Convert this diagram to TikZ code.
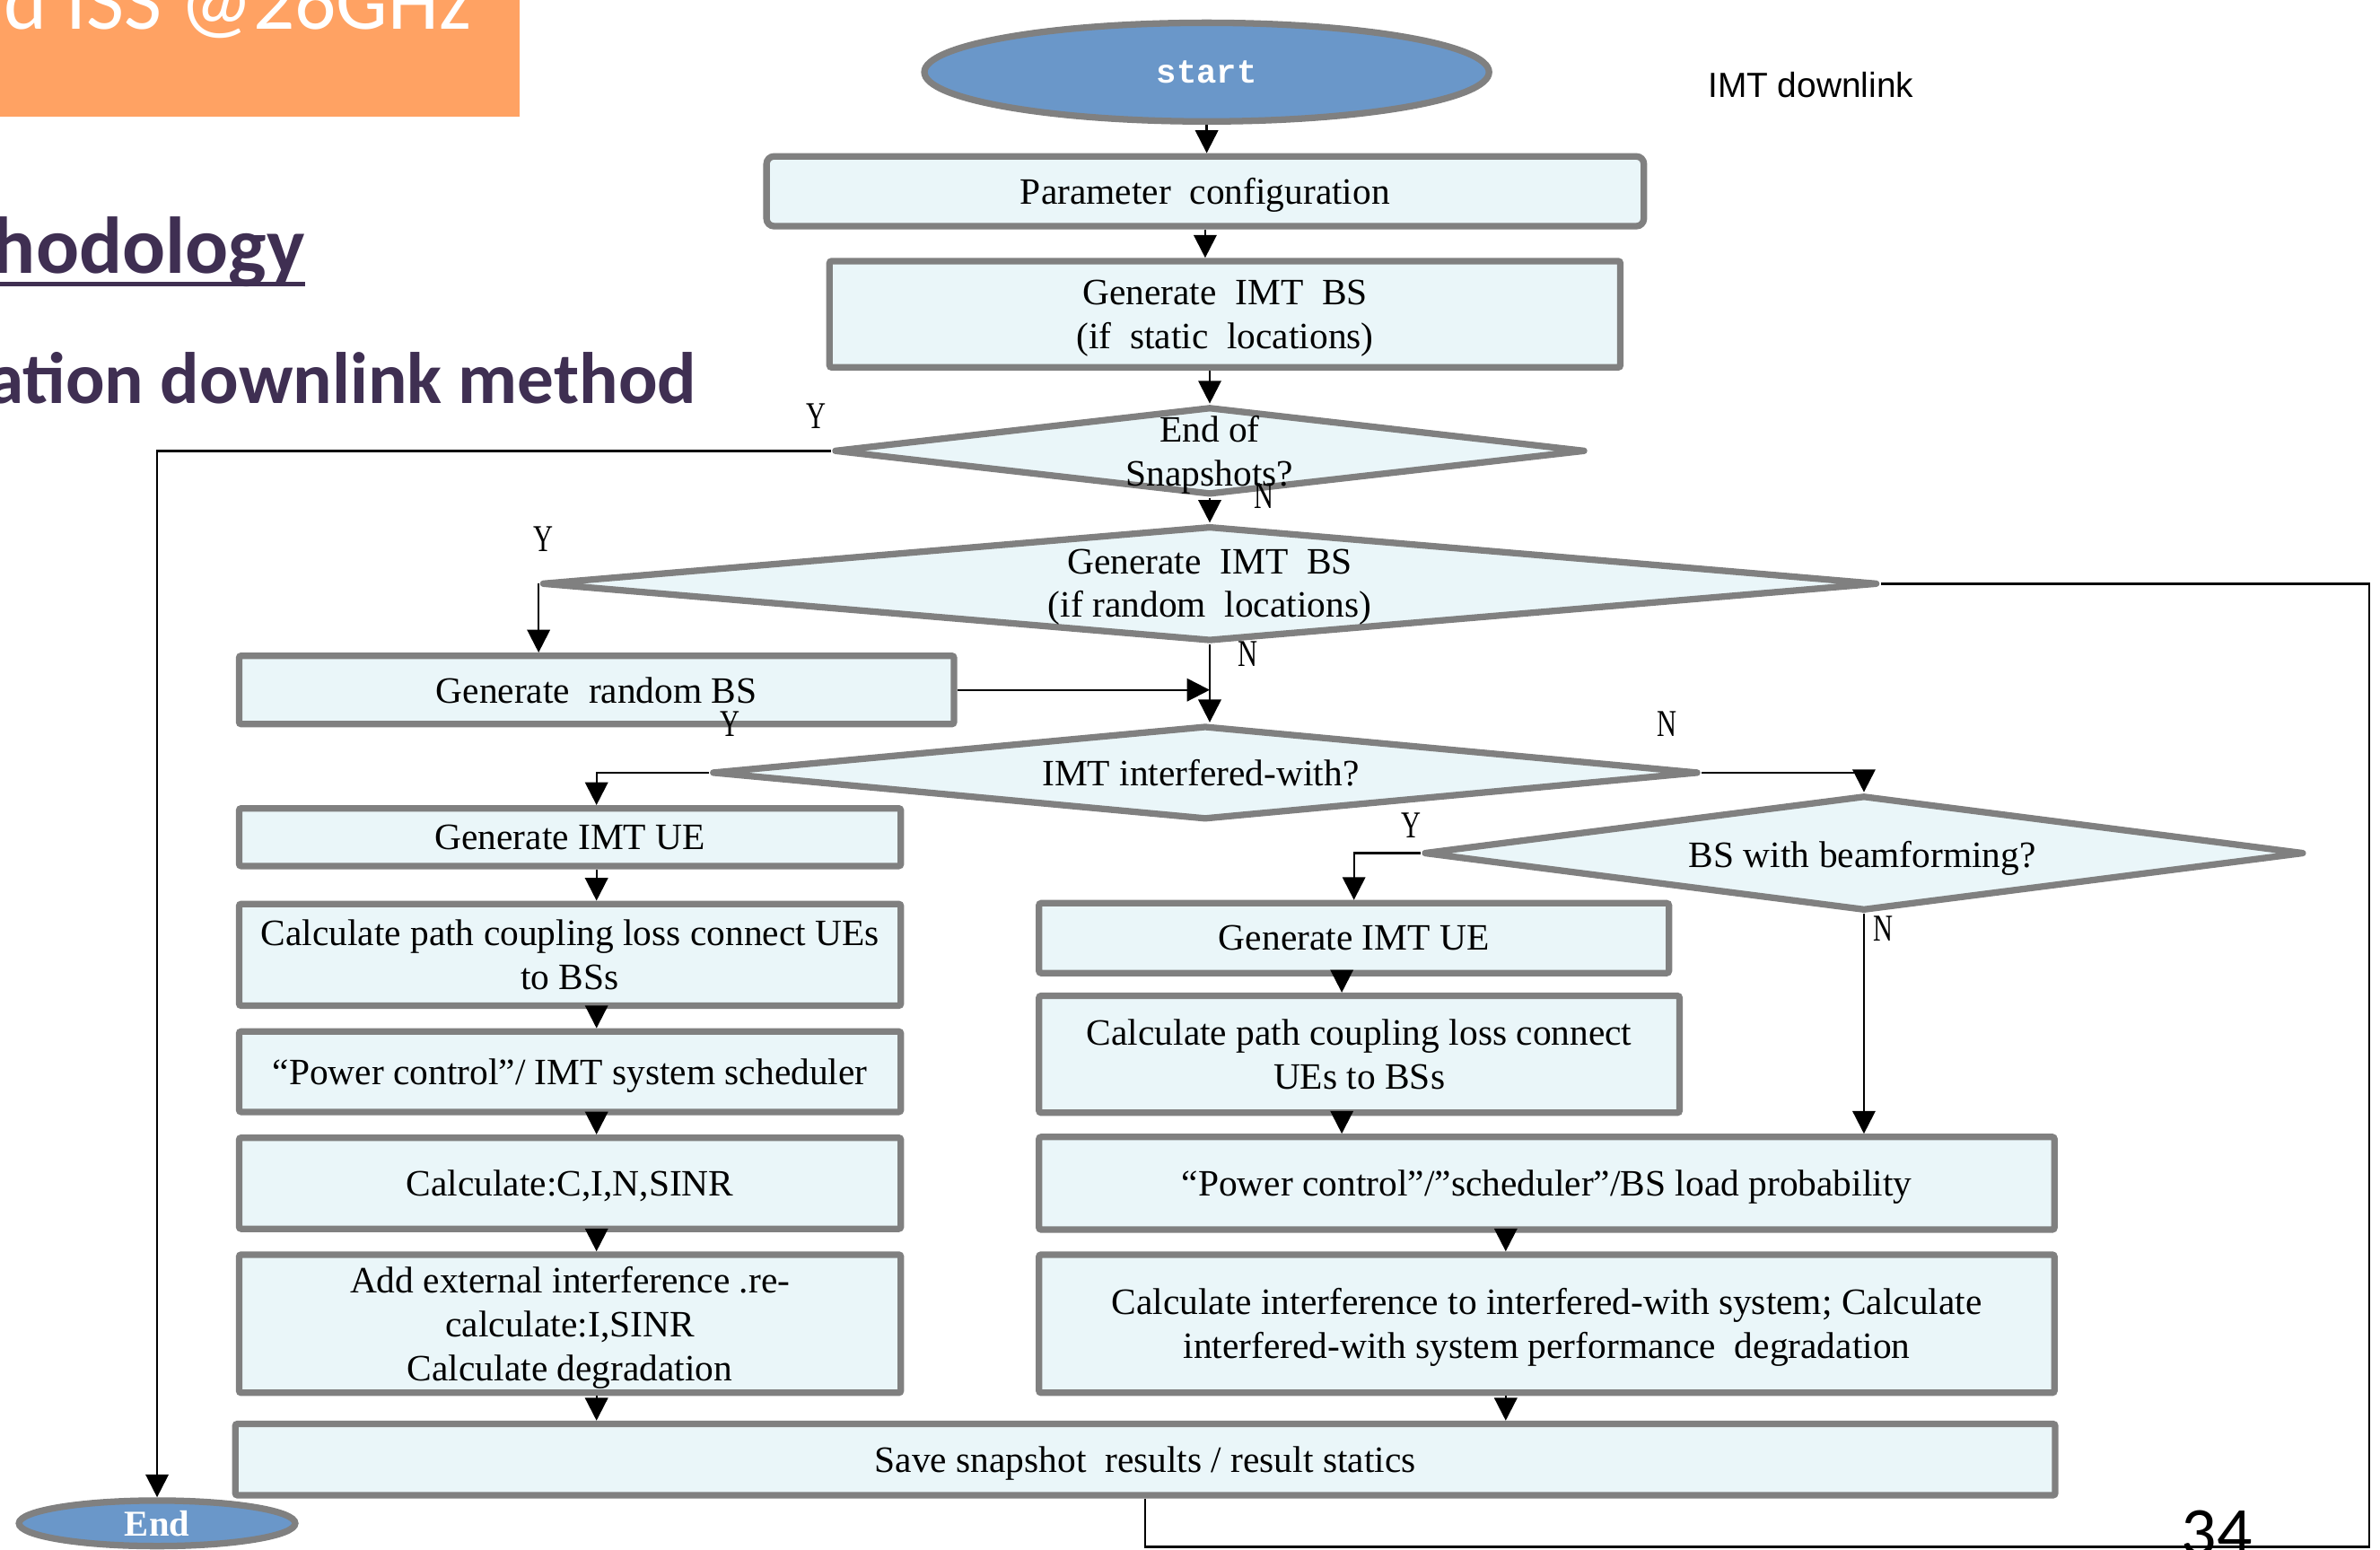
\documentclass[tikz,border=0pt]{standalone}
\usepackage{fontspec}
\setmainfont{Liberation Serif}
\newfontfamily\slidefont{Carlito}
\newfontfamily\labelsans{Liberation Sans}
\newfontfamily\termfont{Liberation Mono}
\newfontfamily\ynfont[FakeStretch=0.72]{Liberation Serif}
\usetikzlibrary{shapes.geometric,arrows.meta}
\definecolor{boxfill}{RGB}{234,246,249}
\definecolor{boxline}{RGB}{128,128,128}
\definecolor{termfill}{RGB}{106,151,201}
\definecolor{bannerorange}{RGB}{255,162,99}
\definecolor{headpurple}{RGB}{63,47,82}

\begin{document}
\begin{tikzpicture}[x=1pt, y=-1pt,
  box/.style={draw=boxline, fill=boxfill, line width=4.3pt, inner sep=0pt,
              rounded corners=1.5pt, align=center, text depth=0pt,
              font=\fontsize{24.5}{29}\selectfont},
  txt/.style={align=center, inner sep=0pt, text depth=0pt,
              font=\fontsize{24.5}{28.5}\selectfont},
  dec/.style={diamond, draw=boxline, fill=boxfill, line width=4.3pt,
              inner sep=0pt, line join=round},
  term/.style={ellipse, draw=boxline, fill=termfill, line width=4.3pt,
               inner sep=0pt, text=white},
  yn/.style={inner sep=0pt, font=\ynfont\fontsize{25}{25}\selectfont},
  arr/.style={line width=1.4pt, -{Triangle[width=15pt,length=15pt]}},
  link/.style={line width=1.4pt},
]
\useasboundingbox (0,0) rectangle (1568,1021);
\clip (0,0) rectangle (1568,1021);

% slide header remnants
\node[fill=bannerorange, anchor=north west, inner sep=0pt,
      minimum width=342pt, minimum height=76.5pt] (banner) at (0,0) {};
\node[anchor=base east, inner sep=0pt, text=white,
      font=\slidefont\fontsize{54}{60}\selectfont] (bannertext) at (311,19) {d ISS @26GHz};
\node[anchor=base east, inner sep=0pt, text=headpurple,
      font=\slidefont\bfseries\fontsize{53}{60}\selectfont] (meth) at (201,180) {hodology};
\draw[headpurple, line width=3pt] (meth.base east) ++(0,7) -- ++(-210,0);
\node[anchor=base east, inner sep=0pt, text=headpurple,
      font=\slidefont\bfseries\fontsize{48}{55}\selectfont] (subtitle) at (459,266) {ation downlink method};
\node[inner sep=0pt, font=\labelsans\fontsize{23}{25}\selectfont] (caption) at (1193,56) {IMT downlink};
\node[anchor=base west, inner sep=0pt, font=\slidefont\fontsize{46}{50}\selectfont] (pagenum) at (1437,1025) {34};

% terminals
\node[term, minimum width=372pt, minimum height=65pt,
      font=\termfont\bfseries\fontsize{22}{22}\selectfont] (start) at (795,47.5) {start};
\node[term, minimum width=182pt, minimum height=30pt,
      font=\bfseries\fontsize{24}{24}\selectfont] (stop) at (103.5,1003.5) {End};

% process boxes
\node[box, minimum width=578pt, minimum height=46pt, rounded corners=5pt] (param) at (794,126) {Parameter~ configuration};
\node[box, minimum width=521pt, minimum height=70pt] (genbs) at (807,207) {Generate~ IMT~ BS\\(if~ static~ locations)};
\node[box, minimum width=471pt, minimum height=45pt] (randbs) at (393,454.5) {Generate~ random BS};

\node[box, minimum width=436pt, minimum height=38pt] (ueL) at (375.5,551.5) {Generate IMT UE};
\node[box, minimum width=436pt, minimum height=67pt] (pathL) at (375.5,629) {Calculate path coupling loss connect UEs\\to BSs};
\node[box, minimum width=436pt, minimum height=53pt] (pcL) at (375.5,706) {“Power control”/ IMT system scheduler};
\node[box, minimum width=436pt, minimum height=60pt] (cinr) at (375.5,779.5) {Calculate:C,I,N,SINR};
\node[box, minimum width=436pt, minimum height=91pt] (extL) at (375.5,872) {Add external interference .re-\\calculate:I,SINR\\Calculate degradation};

\node[box, minimum width=415pt, minimum height=46pt] (ueR) at (892,618) {Generate IMT UE};
\node[box, minimum width=422pt, minimum height=77pt] (pathR) at (895.5,694.5) {Calculate path coupling loss connect\\UEs to BSs};
\node[box, minimum width=669pt, minimum height=61pt] (pcR) at (1019,779.5) {“Power control”/”scheduler”/BS load probability};
\node[box, minimum width=669pt, minimum height=91pt] (intR) at (1019,872) {Calculate interference to interfered-with system; Calculate\\interfered-with system performance~ degradation};

\node[box, minimum width=1199pt, minimum height=47pt] (save) at (754.5,961.5) {Save snapshot~ results / result statics};

% decisions
\node[dec, minimum width=495pt, minimum height=58pt] (eos) at (797,297) {};
\node[txt] (eostext) at (797,297) {End of\\Snapshots?};
\node[dec, minimum width=880pt, minimum height=76pt] (rnd) at (797,384.5) {};
\node[txt] (rndtext) at (797,384) {Generate~ IMT~ BS\\(if random~ locations)};
\node[dec, minimum width=650pt, minimum height=62pt] (imt) at (794,509) {};
\node[txt] (imttext) at (791,509) {IMT interfered-with?};
\node[dec, minimum width=580pt, minimum height=76pt] (bf) at (1228,562) {};
\node[txt] (bftext) at (1227,563) {BS with beamforming?};

% branch labels
\node[yn] (y1) at (538,274) {Y};
\node[yn] (n1) at (833,327) {N};
\node[yn] (y2) at (358,355) {Y};
\node[yn] (n2) at (822,431) {N};
\node[yn] (y3) at (481,477) {Y};
\node[yn] (n3) at (1098,477) {N};
\node[yn] (y4) at (930,544) {Y};
\node[yn] (n4) at (1241,612) {N};

% routing columns
\coordinate (colL) at (393,0);
\coordinate (colR) at (884,0);
\coordinate (colS) at (992,0);
\coordinate (rloop) at (1561,0);
\coordinate (bloop) at (0,1019);

% connectors
\draw[arr] (start.south) -- (start.south |- param.north);
\draw[arr] (param.south) -- (param.south |- genbs.north);
\draw[arr] (genbs.south -| eos.north) -- (eos.north);
\draw[arr] (eos.south) -- (rnd.north);
\draw[arr] (eos.west) -| (stop.north);
\draw[arr] (rnd.west) -- (rnd.west |- randbs.north);
\draw[arr] (rnd.south) -- (rnd.south |- imt.north);
\draw[arr] (randbs.east) -- (randbs.east -| rnd.south);

\draw[arr] (imt.west) -| (ueL.north -| colL);
\draw[arr] (ueL.south -| colL) -- (pathL.north -| colL);
\draw[arr] (pathL.south -| colL) -- (pcL.north -| colL);
\draw[arr] (pcL.south -| colL) -- (cinr.north -| colL);
\draw[arr] (cinr.south -| colL) -- (extL.north -| colL);
\draw[arr] (extL.south -| colL) -- (save.north -| colL);

\draw[arr] (imt.east) -| (bf.north);
\draw[arr] (bf.west) -| (ueR.north);
\draw[arr] (ueR.south -| colR) -- (pathR.north -| colR);
\draw[arr] (pathR.south -| colR) -- (pcR.north -| colR);
\draw[arr] (bf.south) -- (bf.south |- pcR.north);
\draw[arr] (pcR.south -| colS) -- (intR.north -| colS);
\draw[arr] (intR.south -| colS) -- (save.north -| colS);

% loop back from the results
\draw[link] (rnd.east) -- (rnd.east -| rloop) -- (rloop |- bloop)
            -- (save.south |- bloop) -- (save.south);
\end{tikzpicture}
\end{document}
